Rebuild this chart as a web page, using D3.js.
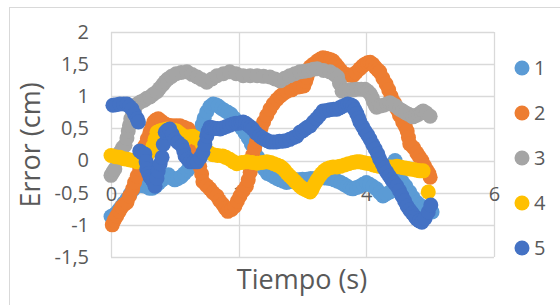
<!DOCTYPE html>
<html>
<head>
<meta charset="utf-8">
<script src="https://cdn.jsdelivr.net/npm/d3@7"></script>
<style>
  body { margin: 0; background: #fff; }
  text { font-family: "Open Sans", "Liberation Sans", sans-serif; fill: #595959; }
</style>
</head>
<body>
<div id="chart"></div>
<script>
// tick values and legend names
var xTicks = [0, 2, 4, 6];
var yTicks = [-1.5, -1, -0.5, 0, 0.5, 1, 1.5, 2];
var names = ["1", "2", "3", "4", "5"];
var colors = ["#5B9BD5", "#ED7D31", "#A5A5A5", "#FFC000", "#4472C4"];

// series 1
var t1 = [0.0, 0.04, 0.08, 0.12, 0.16, 0.2, 0.25, 0.3, 0.35, 0.4, 0.45, 0.5, 0.55, 0.6, 0.65, 0.7, 0.75, 0.8, 0.85, 0.9, 0.95, 1.0, 1.05, 1.1, 1.15, 1.2, 1.24, 1.28, 1.31, 1.34, 1.37, 1.4, 1.43, 1.46, 1.5, 1.55, 1.6, 1.64, 1.68, 1.73, 1.78, 1.83, 1.88, 1.93, 1.97, 2.01, 2.05, 2.1, 2.15, 2.2, 2.25, 2.3, 2.35, 2.4, 2.45, 2.5, 2.55, 2.6, 2.65, 2.7, 2.75, 2.8, 2.85, 2.9, 2.95, 3.0, 3.07, 3.13, 3.2, 3.27, 3.35, 3.42, 3.5, 3.55, 3.6, 3.65, 3.7, 3.75, 3.79, 3.85, 3.9, 3.95, 4.0, 4.05, 4.1, 4.16, 4.21, 4.26, 4.31, 4.37, 4.45, 4.5, 4.54, 4.57, 4.62, 4.68, 4.73, 4.79, 4.84, 4.9, 4.95, 5.0, 5.03];
var e1 = [-0.87, -0.85, -0.82, -0.77, -0.72, -0.66, -0.6, -0.52, -0.45, -0.4, -0.38, -0.39, -0.4, -0.43, -0.43, -0.4, -0.35, -0.3, -0.25, -0.22, -0.27, -0.3, -0.28, -0.25, -0.2, -0.15, -0.1, -0.05, 0.05, 0.18, 0.32, 0.45, 0.56, 0.66, 0.76, 0.84, 0.88, 0.87, 0.85, 0.81, 0.78, 0.75, 0.72, 0.66, 0.6, 0.55, 0.5, 0.43, 0.35, 0.25, 0.15, 0.05, -0.05, -0.13, -0.2, -0.22, -0.25, -0.28, -0.3, -0.32, -0.34, -0.33, -0.31, -0.3, -0.3, -0.29, -0.29, -0.28, -0.28, -0.27, -0.27, -0.28, -0.3, -0.32, -0.34, -0.37, -0.4, -0.43, -0.44, -0.42, -0.4, -0.37, -0.34, -0.37, -0.4, -0.44, -0.5, -0.55, -0.52, -0.49, 0.0, -0.25, -0.3, -0.34, -0.4, -0.49, -0.57, -0.65, -0.69, -0.73, -0.76, -0.79, -0.8];

// series 2
var t2 = [0.02, 0.05, 0.09, 0.13, 0.17, 0.21, 0.25, 0.29, 0.34, 0.37, 0.41, 0.45, 0.49, 0.51, 0.53, 0.57, 0.61, 0.64, 0.67, 0.7, 0.74, 0.79, 0.85, 0.9, 0.96, 1.02, 1.08, 1.14, 1.21, 1.25, 1.28, 1.31, 1.35, 1.37, 1.39, 1.42, 1.44, 1.5, 1.55, 1.6, 1.66, 1.7, 1.75, 1.79, 1.83, 1.89, 1.94, 1.98, 2.02, 2.07, 2.12, 2.15, 2.18, 2.2, 2.22, 2.25, 2.28, 2.31, 2.35, 2.39, 2.44, 2.49, 2.54, 2.6, 2.65, 2.7, 2.76, 2.83, 2.91, 2.96, 3.02, 3.05, 3.07, 3.1, 3.12, 3.17, 3.23, 3.28, 3.32, 3.36, 3.4, 3.44, 3.48, 3.52, 3.56, 3.6, 3.63, 3.68, 3.72, 3.79, 3.84, 3.9, 3.94, 3.98, 4.02, 4.06, 4.1, 4.14, 4.18, 4.21, 4.26, 4.31, 4.35, 4.39, 4.44, 4.48, 4.52, 4.57, 4.61, 4.64, 4.66, 4.68, 4.74, 4.79, 4.83, 4.87, 4.91, 4.95, 4.98, 5.0];
var e2 = [-1.0, -0.93, -0.86, -0.79, -0.72, -0.68, -0.65, -0.55, -0.44, -0.34, -0.24, -0.13, -0.02, 0.1, 0.23, 0.34, 0.44, 0.52, 0.6, 0.63, 0.65, 0.61, 0.57, 0.55, 0.54, 0.54, 0.54, 0.52, 0.49, 0.41, 0.33, 0.23, 0.13, 0.02, -0.09, -0.21, -0.33, -0.39, -0.44, -0.5, -0.55, -0.62, -0.68, -0.74, -0.79, -0.76, -0.71, -0.63, -0.55, -0.47, -0.4, -0.3, -0.18, -0.05, 0.09, 0.2, 0.3, 0.4, 0.5, 0.6, 0.7, 0.8, 0.88, 0.95, 1.0, 1.04, 1.08, 1.1, 1.14, 1.15, 1.16, 1.23, 1.3, 1.38, 1.46, 1.5, 1.55, 1.58, 1.6, 1.59, 1.58, 1.57, 1.55, 1.5, 1.45, 1.4, 1.35, 1.34, 1.33, 1.32, 1.37, 1.43, 1.47, 1.5, 1.52, 1.53, 1.5, 1.45, 1.41, 1.38, 1.28, 1.19, 1.1, 1.0, 0.9, 0.8, 0.7, 0.6, 0.53, 0.46, 0.36, 0.26, 0.2, 0.12, 0.06, 0.0, -0.08, -0.15, -0.2, -0.26];

// series 3
var t3 = [0.0, 0.03, 0.06, 0.1, 0.14, 0.18, 0.22, 0.25, 0.27, 0.29, 0.31, 0.34, 0.37, 0.41, 0.46, 0.52, 0.56, 0.61, 0.66, 0.72, 0.76, 0.81, 0.85, 0.89, 0.95, 1.02, 1.1, 1.19, 1.27, 1.35, 1.42, 1.5, 1.58, 1.66, 1.76, 1.86, 1.96, 2.07, 2.18, 2.29, 2.39, 2.49, 2.57, 2.65, 2.72, 2.8, 2.88, 2.96, 3.03, 3.1, 3.17, 3.23, 3.33, 3.43, 3.5, 3.55, 3.58, 3.62, 3.68, 3.75, 3.8, 3.85, 3.92, 3.98, 4.02, 4.06, 4.09, 4.11, 4.14, 4.16, 4.22, 4.27, 4.32, 4.37, 4.42, 4.47, 4.52, 4.57, 4.62, 4.66, 4.7, 4.73, 4.78, 4.82, 4.86, 4.89, 4.94, 5.0];
var e3 = [-0.23, -0.18, -0.13, 0.0, 0.13, 0.2, 0.24, 0.35, 0.46, 0.55, 0.65, 0.72, 0.8, 0.88, 0.91, 0.94, 0.97, 0.99, 1.03, 1.07, 1.12, 1.18, 1.23, 1.27, 1.31, 1.35, 1.37, 1.38, 1.34, 1.3, 1.26, 1.22, 1.27, 1.32, 1.35, 1.38, 1.35, 1.32, 1.32, 1.32, 1.31, 1.3, 1.27, 1.24, 1.28, 1.32, 1.35, 1.38, 1.39, 1.4, 1.42, 1.43, 1.4, 1.38, 1.34, 1.3, 1.2, 1.08, 1.09, 1.1, 1.1, 1.11, 1.11, 1.11, 1.08, 1.04, 0.98, 0.92, 0.86, 0.83, 0.85, 0.86, 0.88, 0.9, 0.87, 0.84, 0.8, 0.77, 0.74, 0.72, 0.7, 0.68, 0.7, 0.72, 0.75, 0.77, 0.74, 0.69];

// series 4
var t4 = [0.0, 0.07, 0.14, 0.2, 0.25, 0.3, 0.35, 0.41, 0.46, 0.51, 0.56, 0.61, 0.66, 0.69, 0.72, 0.76, 0.8, 0.84, 0.88, 0.93, 0.98, 1.03, 1.08, 1.13, 1.17, 1.2, 1.24, 1.28, 1.33, 1.39, 1.43, 1.47, 1.53, 1.6, 1.67, 1.75, 1.8, 1.86, 1.92, 1.97, 2.05, 2.13, 2.21, 2.29, 2.37, 2.44, 2.5, 2.55, 2.6, 2.65, 2.69, 2.72, 2.76, 2.8, 2.84, 2.88, 2.92, 2.96, 3.0, 3.04, 3.08, 3.12, 3.15, 3.17, 3.2, 3.23, 3.27, 3.3, 3.34, 3.38, 3.43, 3.48, 3.54, 3.59, 3.66, 3.72, 3.79, 3.85, 3.9, 3.95, 4.0, 4.06, 4.11, 4.16, 4.21, 4.26, 4.32, 4.37, 4.42, 4.48, 4.53, 4.58, 4.63, 4.68, 4.74, 4.79, 4.84, 4.89, 4.97];
var e4 = [0.08, 0.06, 0.05, 0.03, 0.02, 0.01, 0.0, -0.02, 0.0, 0.03, 0.07, 0.14, 0.23, 0.33, 0.44, 0.46, 0.47, 0.48, 0.49, 0.48, 0.47, 0.46, 0.42, 0.38, 0.37, 0.36, 0.37, 0.38, 0.35, 0.32, 0.25, 0.18, 0.13, 0.09, 0.08, 0.07, 0.05, 0.02, -0.02, -0.05, -0.03, -0.02, -0.03, -0.04, -0.03, -0.02, -0.03, -0.05, -0.07, -0.09, -0.12, -0.15, -0.2, -0.24, -0.28, -0.32, -0.36, -0.4, -0.43, -0.45, -0.47, -0.49, -0.45, -0.4, -0.35, -0.3, -0.24, -0.2, -0.16, -0.13, -0.11, -0.1, -0.1, -0.09, -0.07, -0.05, -0.03, -0.02, -0.02, -0.03, -0.04, -0.05, -0.07, -0.08, -0.09, -0.1, -0.1, -0.1, -0.1, -0.09, -0.1, -0.11, -0.12, -0.13, -0.14, -0.15, -0.16, -0.16, -0.49];

// series 5
var t5 = [0.03, 0.08, 0.14, 0.2, 0.25, 0.29, 0.33, 0.37, 0.41, 0.43, 0.45, 0.49, 0.53, 0.55, 0.56, 0.59, 0.61, 0.64, 0.66, 0.69, 0.72, 0.74, 0.77, 0.8, 0.82, 0.85, 0.88, 0.92, 0.96, 1.0, 1.05, 1.11, 1.14, 1.16, 1.2, 1.24, 1.3, 1.35, 1.4, 1.44, 1.47, 1.5, 1.52, 1.55, 1.59, 1.63, 1.67, 1.71, 1.76, 1.81, 1.86, 1.91, 1.96, 2.0, 2.04, 2.07, 2.11, 2.15, 2.19, 2.22, 2.27, 2.33, 2.37, 2.41, 2.45, 2.49, 2.54, 2.59, 2.64, 2.69, 2.74, 2.8, 2.86, 2.91, 2.96, 3.0, 3.04, 3.08, 3.12, 3.17, 3.22, 3.27, 3.32, 3.38, 3.43, 3.49, 3.54, 3.58, 3.62, 3.67, 3.71, 3.75, 3.79, 3.82, 3.85, 3.88, 3.9, 3.94, 3.98, 4.02, 4.06, 4.1, 4.14, 4.18, 4.21, 4.25, 4.28, 4.32, 4.36, 4.4, 4.44, 4.48, 4.52, 4.56, 4.6, 4.64, 4.68, 4.72, 4.76, 4.79, 4.83, 4.87, 4.92, 4.97, 5.01];
var e5 = [0.86, 0.87, 0.88, 0.88, 0.88, 0.84, 0.8, 0.72, 0.65, 0.6, 0.15, 0.12, 0.1, -0.02, -0.13, -0.2, -0.25, -0.29, -0.32, -0.4, -0.28, -0.16, -0.05, 0.05, 0.25, 0.44, 0.47, 0.49, 0.41, 0.33, 0.28, 0.23, 0.15, 0.07, 0.02, -0.02, -0.02, -0.02, 0.05, 0.13, 0.25, 0.38, 0.45, 0.52, 0.51, 0.5, 0.5, 0.49, 0.51, 0.53, 0.55, 0.57, 0.58, 0.58, 0.59, 0.6, 0.58, 0.55, 0.52, 0.49, 0.43, 0.38, 0.35, 0.33, 0.31, 0.29, 0.29, 0.29, 0.3, 0.3, 0.31, 0.33, 0.36, 0.38, 0.44, 0.46, 0.49, 0.52, 0.54, 0.6, 0.65, 0.71, 0.77, 0.78, 0.79, 0.8, 0.8, 0.82, 0.84, 0.86, 0.88, 0.87, 0.85, 0.79, 0.73, 0.66, 0.6, 0.53, 0.46, 0.4, 0.33, 0.25, 0.18, 0.1, 0.02, -0.05, -0.12, -0.18, -0.24, -0.3, -0.35, -0.4, -0.47, -0.55, -0.63, -0.71, -0.77, -0.82, -0.87, -0.91, -0.94, -0.96, -0.9, -0.8, -0.69];

var times = [t1, t2, t3, t4, t5];
var errors = [e1, e2, e3, e4, e5];

var W = 560, H = 305;
var plot = { left: 111, right: 494, top: 32, bottom: 257 };

var svg = d3.select("#chart").append("svg")
    .attr("width", W)
    .attr("height", H);

// chart area border
svg.append("rect")
    .attr("x", 9.5).attr("y", 7.5)
    .attr("width", W + 20).attr("height", H + 20)
    .attr("fill", "#fff")
    .attr("stroke", "#d9d9d9");

var x = d3.scaleLinear().domain([0, 6]).range([plot.left, plot.right]);
var y = d3.scaleLinear().domain([-1.5, 2]).range([plot.bottom, plot.top]);

// gridlines
svg.append("g").selectAll("line.h").data(yTicks).enter().append("line")
    .attr("x1", plot.left).attr("x2", plot.right)
    .attr("y1", function(d) { return Math.round(y(d)) + 0.5; })
    .attr("y2", function(d) { return Math.round(y(d)) + 0.5; })
    .attr("stroke", "#d9d9d9").attr("stroke-width", 1.3);
svg.append("g").selectAll("line.v").data(xTicks).enter().append("line")
    .attr("y1", plot.top).attr("y2", plot.bottom)
    .attr("x1", function(d) { return Math.round(x(d)) + 0.5; })
    .attr("x2", function(d) { return Math.round(x(d)) + 0.5; })
    .attr("stroke", "#d9d9d9").attr("stroke-width", 1.3);

var fmt = function(d) { return String(d).replace(".", ","); };

// y axis labels
var yAxis = svg.append("g")
    .attr("transform", "translate(" + plot.left + ",0)")
    .call(d3.axisLeft(y).tickValues(yTicks).tickSize(0).tickPadding(22).tickFormat(fmt));
yAxis.select(".domain").remove();

// x axis labels (axis crosses at 0)
var xAxis = svg.append("g")
    .attr("transform", "translate(0," + y(0) + ")")
    .call(d3.axisBottom(x).tickValues(xTicks).tickSize(0).tickPadding(26).tickFormat(fmt));
xAxis.select(".domain").remove();

svg.selectAll(".tick text")
    .style("font-family", '"Open Sans", sans-serif')
    .style("font-size", "20px")
    .attr("fill", "#595959");

// series markers
for (var i = 0; i < 5; i++) {
  var pts = times[i].map(function(t, j) { return [t, errors[i][j]]; });
  svg.append("g").selectAll("circle").data(pts).enter().append("circle")
      .attr("cx", function(d) { return x(d[0]); })
      .attr("cy", function(d) { return y(d[1]); })
      .attr("r", 7.5)
      .attr("fill", colors[i]);
}

// axis titles
svg.append("text")
    .attr("transform", "translate(31,145) rotate(-90)")
    .attr("text-anchor", "middle")
    .attr("dy", "0.35em")
    .style("font-size", "27px")
    .text("Error (cm)");

svg.append("text")
    .attr("x", 302).attr("y", 289)
    .attr("text-anchor", "middle")
    .style("font-size", "27px")
    .text("Tiempo (s)");

// legend
var legend = svg.append("g").selectAll("g").data(names).enter().append("g")
    .attr("transform", function(d, i) { return "translate(522," + (68 + i * 45) + ")"; });
legend.append("circle")
    .attr("r", 7.5)
    .attr("fill", function(d, i) { return colors[i]; });
legend.append("text")
    .attr("x", 12)
    .attr("dy", "0.36em")
    .style("font-size", "20px")
    .text(function(d) { return d; });
</script>
</body>
</html>
